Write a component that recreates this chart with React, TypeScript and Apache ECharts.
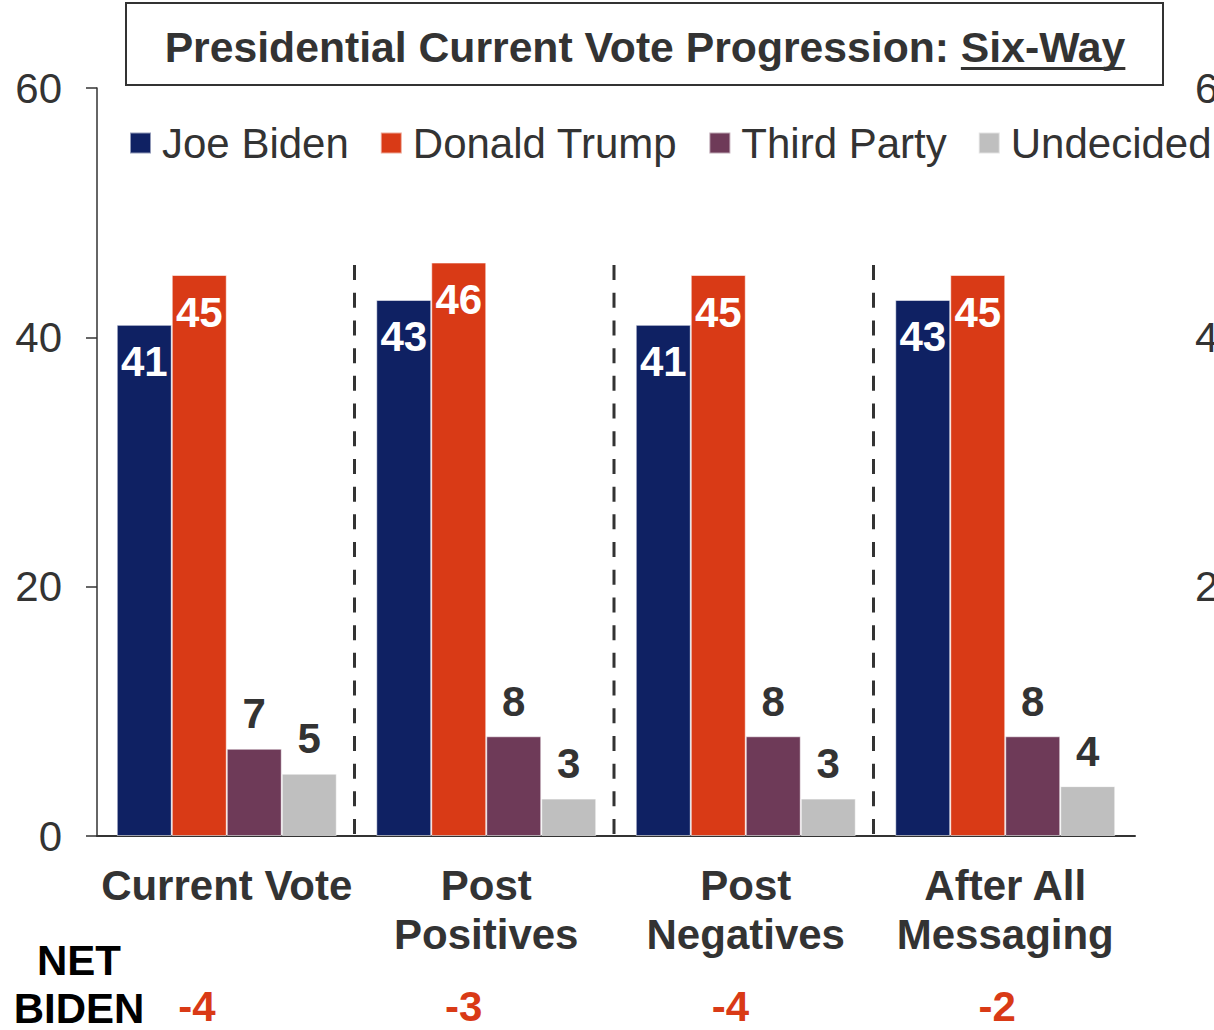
import React, { useEffect, useRef } from "react";
import * as echarts from "echarts";

const categories = ["Current Vote", "Post\nPositives", "Post\nNegatives", "After All\nMessaging"];
const biden = [41, 43, 41, 43];
const trump = [45, 46, 45, 45];
const thirdParty = [7, 8, 8, 8];
const undecided = [5, 3, 3, 4];
const netBiden = ["-4", "-3", "-4", "-2"];
const yTicks = [0, 20, 40, 60];

const FONT = "'Liberation Sans', Arial, Helvetica, sans-serif";
const TXT = "#333333";
const C_BIDEN = "#0F2163";
const C_TRUMP = "#D93A16";
const C_THIRD = "#6E3A58";
const C_UND = "#BFBFBF";

export default function App() {
  const ref = useRef<HTMLDivElement>(null);
  useEffect(() => {
    if (!ref.current) return;
    const chart = echarts.init(ref.current, null, { renderer: "svg" });

    const labelIn = {
      show: true,
      position: "insideTop",
      distance: 16,
      color: "#ffffff",
      fontSize: 42,
      fontWeight: "bold",
      fontFamily: FONT,
    };
    const labelTop = {
      show: true,
      position: "top",
      distance: 14,
      color: TXT,
      fontSize: 42,
      fontWeight: "bold",
      fontFamily: FONT,
    };
    const border = { borderColor: "rgba(255,255,255,0.55)", borderWidth: 1 };

    const mkSeries = (name: string, data: number[], color: string, label: any) => ({
      name,
      type: "bar",
      data,
      barWidth: 55,
      barGap: "0%",
      itemStyle: { color, ...border },
      label,
    });

    chart.setOption({
      animation: false,
      backgroundColor: "#ffffff",
      grid: { left: 97, right: 79, top: 88, bottom: 194, containLabel: false, outerBoundsMode: "none" },
      legend: {
        left: 129,
        top: 122,
        padding: 0,
        itemGap: 31,
        itemWidth: 21,
        itemHeight: 21,
        icon: "rect",
        textStyle: { fontSize: 42, color: TXT, fontFamily: FONT, padding: [0, 0, 0, 6] },
        data: ["Joe Biden", "Donald Trump", "Third Party", "Undecided"],
      },
      xAxis: {
        type: "category",
        data: categories,
        axisLine: { lineStyle: { color: TXT, width: 2 } },
        axisTick: { show: false },
        axisLabel: {
          margin: 25,
          fontSize: 42,
          lineHeight: 49,
          fontWeight: "bold",
          color: TXT,
          fontFamily: FONT,
          interval: 0,
        },
      },
      yAxis: [
        {
          type: "value",
          min: 0,
          max: 60,
          interval: 20,
          axisLine: { show: true, lineStyle: { color: TXT, width: 1.5 } },
          axisTick: { show: true, length: 11, lineStyle: { color: TXT, width: 1.5 } },
          splitLine: { show: false },
          axisLabel: {
            margin: 35,
            fontSize: 42,
            color: TXT,
            fontFamily: FONT,
            formatter: (v: number) => (yTicks.includes(v) ? String(v) : ""),
          },
        },
        {
          type: "value",
          position: "right",
          min: 0,
          max: 60,
          interval: 20,
          axisLine: { show: false },
          axisTick: { show: false },
          splitLine: { show: false },
          axisLabel: {
            margin: 60,
            fontSize: 42,
            color: TXT,
            fontFamily: FONT,
            align: "left",
            formatter: (v: number) => (v === 0 ? "" : String(v)),
          },
        },
      ],
      series: [
        mkSeries("Joe Biden", biden, C_BIDEN, labelIn),
        mkSeries("Donald Trump", trump, C_TRUMP, labelIn),
        mkSeries("Third Party", thirdParty, C_THIRD, labelTop),
        mkSeries("Undecided", undecided, C_UND, labelTop),
      ],
    });

    const TITLE_FONT = `bold 42.7px ${FONT}`;
    const ctx = document.createElement("canvas").getContext("2d")!;
    ctx.font = TITLE_FONT;
    const partA = "Presidential Current Vote Progression: ";
    const partB = "Six-Way";
    const wA = ctx.measureText(partA).width;
    const wB = ctx.measureText(partB).width;
    const titleCx = 645;
    const titleLeft = titleCx - (wA + wB) / 2;

    const centers = categories.map((_, i) => chart.convertToPixel({ xAxisIndex: 0 }, i) as number);
    const yTop = chart.convertToPixel({ yAxisIndex: 0 }, 45.8) as number;
    const yBot = (chart.convertToPixel({ yAxisIndex: 0 }, 0) as number) + 9;
    const seps: any[] = [];
    for (let i = 0; i < centers.length - 1; i++) {
      const x = (centers[i] + centers[i + 1]) / 2 - 2;
      seps.push({
        type: "line",
        shape: { x1: x, y1: yTop, x2: x, y2: yBot },
        style: { stroke: TXT, lineWidth: 3, lineDash: [15, 12.7] },
        z: 10,
      });
    }

    const netTexts = netBiden.map((t, i) => ({
      type: "text",
      x: 197 + i * 266.7,
      y: 1006,
      style: {
        text: t,
        fill: C_TRUMP,
        font: `bold 42px ${FONT}`,
        textAlign: "center",
        textVerticalAlign: "middle",
      },
    }));

    chart.setOption({
      graphic: [
        {
          type: "rect",
          shape: { x: 126, y: 3, width: 1037, height: 82 },
          style: { fill: "none", stroke: TXT, lineWidth: 2 },
        },
        {
          type: "text",
          x: titleLeft,
          y: 47,
          style: {
            text: partA + partB,
            fill: TXT,
            font: TITLE_FONT,
            textAlign: "left",
            textVerticalAlign: "middle",
          },
        },
        {
          type: "rect",
          shape: { x: titleLeft + wA, y: 67, width: wB, height: 3 },
          style: { fill: TXT },
        },
        ...seps,
        {
          type: "text",
          x: 79,
          y: 960,
          style: { text: "NET", fill: "#000", font: `bold 42px ${FONT}`, textAlign: "center", textVerticalAlign: "middle" },
        },
        {
          type: "text",
          x: 79,
          y: 1008,
          style: { text: "BIDEN", fill: "#000", font: `bold 42px ${FONT}`, textAlign: "center", textVerticalAlign: "middle" },
        },
        ...netTexts,
      ],
    });

    return () => chart.dispose();
  }, []);

  return (
    <div
      ref={ref}
      style={{ position: "fixed", left: 0, top: 0, width: 1214, height: 1030, background: "#fff" }}
    />
  );
}
